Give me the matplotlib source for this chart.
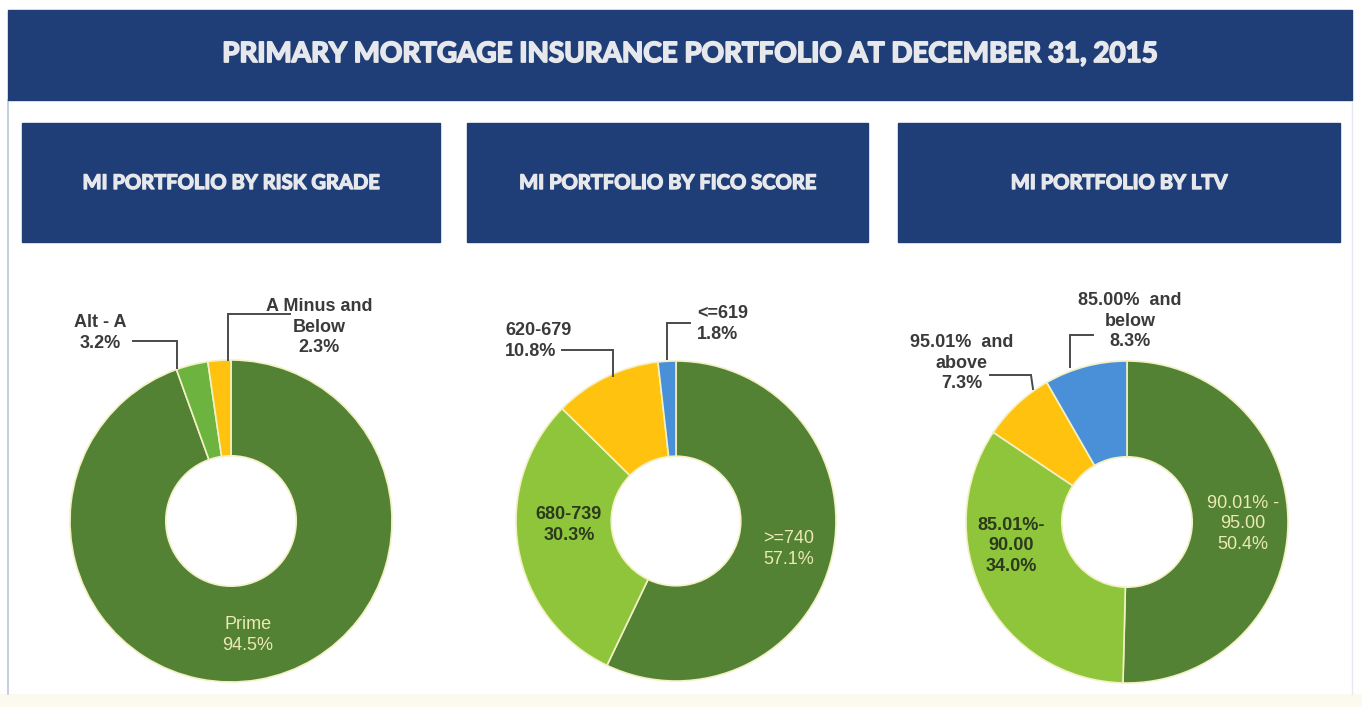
import matplotlib
matplotlib.use("Agg")
import matplotlib.pyplot as plt
from matplotlib.patches import Rectangle
import matplotlib.patheffects as pe

# ---------------- data ----------------
title = "PRIMARY MORTGAGE INSURANCE PORTFOLIO AT DECEMBER 31, 2015"
panel_titles = ["MI PORTFOLIO BY RISK GRADE", "MI PORTFOLIO BY FICO SCORE", "MI PORTFOLIO BY LTV"]

risk_labels = ["Prime", "Alt - A", "A Minus and\nBelow"]
risk_values = [94.5, 3.2, 2.3]

fico_labels = [">=740", "680-739", "620-679", "<=619"]
fico_values = [57.1, 30.3, 10.8, 1.8]

ltv_labels = ["90.01% -\n95.00", "85.01%-\n90.00", "95.01%  and\nabove", "85.00%  and\nbelow"]
ltv_values = [50.4, 34.0, 7.3, 8.3]

# ---------------- style ----------------
W, H = 1362, 707
NAVY = "#1f3e77"
DKGREEN = "#548235"
LTGREEN = "#8fc53b"
MDGREEN = "#6db33f"
YELLOW = "#ffc20e"
BLUE = "#4a90d8"
EDGE = "#f3f0c4"
TXT = "#3a3a3a"
CREAM = "#ece9b4"
DARKIN = "#2b3a1c"
HEAD = "#e7e8ec"

fig = plt.figure(figsize=(W / 100, H / 100), dpi=100)
fig.patch.set_facecolor("white")
bg = fig.add_axes([0, 0, 1, 1])
bg.set_xlim(0, W)
bg.set_ylim(H, 0)
bg.axis("off")

# page decorations
bg.add_patch(Rectangle((0, 694), W, 13, color="#fcfaee", zorder=0))
bg.plot([8, 8], [100, 694], color="#b9c6dc", lw=1.2, zorder=0)
bg.plot([1352, 1352], [100, 694], color="#e6e9ef", lw=1.0, zorder=0)

# title banner
bg.add_patch(Rectangle((8, 10), 1344, 90, color=NAVY, zorder=1))
bold_fx = [pe.withStroke(linewidth=1.3, foreground=HEAD)]
bg.text(690, 54, title, color=HEAD, fontsize=20, fontweight="bold",
        family=["Lato", "DejaVu Sans"], ha="center", va="center", zorder=2,
        path_effects=bold_fx)

# panel header boxes
boxes = [(22, 440), (467, 868), (898, 1340)]
for (x0, x1), t in zip(boxes, panel_titles):
    bg.add_patch(Rectangle((x0, 123), x1 - x0, 119, color=NAVY, zorder=1))
    bg.text((x0 + x1) / 2, 183, t, color=HEAD, fontsize=14.5, fontweight="bold",
            family=["Lato", "DejaVu Sans"], ha="center", va="center", zorder=2,
            path_effects=[pe.withStroke(linewidth=1.0, foreground=HEAD)])

LFONT = ["Liberation Sans", "DejaVu Sans"]


def donut(cx, cy, R, values, colors):
    ax = fig.add_axes([(cx - R) / W, 1 - (cy + R) / H, 2 * R / W, 2 * R / H])
    ax.pie(values, colors=colors, startangle=90, counterclock=False, radius=1,
           wedgeprops=dict(width=0.595, edgecolor=EDGE, linewidth=1.2))
    ax.set_xlim(-1, 1)
    ax.set_ylim(-1, 1)
    ax.axis("off")
    return ax


donut(231, 521, 161, risk_values, [DKGREEN, MDGREEN, YELLOW])
donut(676, 521, 160, fico_values, [DKGREEN, LTGREEN, YELLOW, BLUE])
donut(1127, 522, 161, ltv_values, [DKGREEN, LTGREEN, YELLOW, BLUE])

# overlay for labels and leader lines (above the pies)
top = fig.add_axes([0, 0, 1, 1])
top.set_xlim(0, W)
top.set_ylim(H, 0)
top.axis("off")
top.patch.set_alpha(0)


def label(x, y, s, color=TXT, ha="center", size=13, weight="bold"):
    top.text(x, y, s, color=color, fontsize=size, fontweight=weight, family=LFONT,
             ha=ha, va="center", linespacing=1.3, zorder=5)


def leader(xs, ys):
    top.plot(xs, ys, color="#4a4a4a", lw=1.4, zorder=5, solid_joinstyle="miter")


# ---------- panel 1: risk grade ----------
label(248, 635, f"{risk_labels[0]}\n{risk_values[0]}%", color=CREAM, weight="normal")
label(100, 333, f"{risk_labels[1]}\n{risk_values[1]}%")
leader([133, 177, 177], [341, 341, 368])
label(319, 327, f"{risk_labels[2]}\n{risk_values[2]}%")
leader([290, 228, 228], [314, 314, 360])

# ---------- panel 2: FICO ----------
label(789, 549, f"{fico_labels[0]}\n{fico_values[0]}%", color=CREAM, weight="normal")
label(569, 525, f"{fico_labels[1]}\n{fico_values[1]}%", color=DARKIN)
label(505, 341, f"{fico_labels[2]}\n{fico_values[2]}%", ha="left")
leader([562, 613, 613], [350, 350, 376])
label(697, 324, f"{fico_labels[3]}\n{fico_values[3]}%", ha="left")
leader([690, 667, 667], [323, 323, 359])

# ---------- panel 3: LTV ----------
label(1243, 524, f"{ltv_labels[0]}\n{ltv_values[0]:.1f}%", color=CREAM, weight="normal")
label(1011, 546, f"{ltv_labels[1]}\n{ltv_values[1]:.1f}%", color=DARKIN)
label(962, 363, f"{ltv_labels[2]}\n{ltv_values[2]:.1f}%")
leader([990, 1031, 1033], [375, 375, 389])
label(1130, 321, f"{ltv_labels[3]}\n{ltv_values[3]:.1f}%")
leader([1093, 1070, 1070], [335, 335, 367])

fig.savefig("out.png", dpi=100, facecolor="white")
